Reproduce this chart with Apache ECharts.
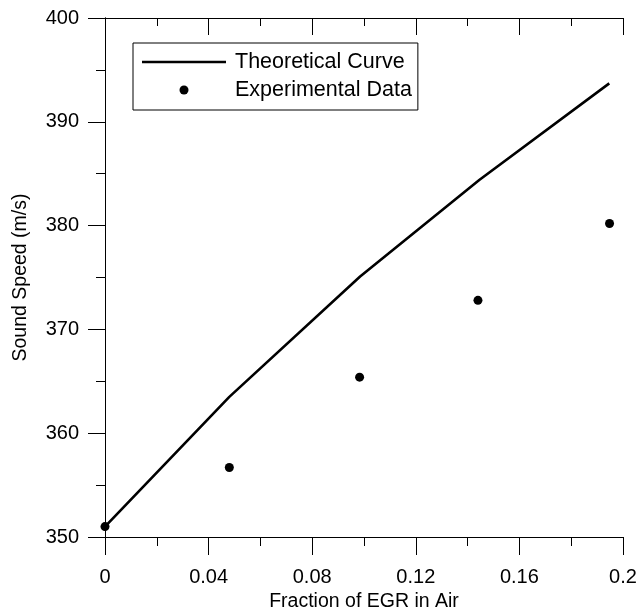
<!DOCTYPE html>
<html>
<head>
<meta charset="utf-8">
<script src="https://cdn.jsdelivr.net/npm/echarts@6/dist/echarts.min.js"></script>
<style>
  html, body { margin: 0; padding: 0; background: #fff; }
  #chart { width: 640px; height: 611px; }
</style>
</head>
<body>
<div id="chart"></div>
<script>
// EGR fraction vs. sound speed
const theoryX = [0, 0.048, 0.0985, 0.1445, 0.1947];
const theoryY = [351.0, 363.5, 375.1, 384.4, 393.7];
const expX = [0, 0.048, 0.0983, 0.144, 0.1948];
const expY = [351.0, 356.7, 365.4, 372.8, 380.2];

const FONT = '"Liberation Sans", Arial, sans-serif';
const chart = echarts.init(document.getElementById('chart'), null, { renderer: 'canvas' });

const pair = (xs, ys) => xs.map((x, i) => [x, ys[i]]);

const tickCommon = {
  axisLine: { show: true, lineStyle: { color: '#000', width: 1 } },
  splitLine: { show: false },
  minorSplitLine: { show: false }
};

chart.setOption({
  animation: false,
  backgroundColor: '#fff',
  textStyle: { fontFamily: FONT },
  grid: { left: 105, right: 17, top: 18, bottom: 74, containLabel: false, outerBoundsMode: 'none' },
  legend: {
    orient: 'vertical',
    left: 133,
    top: 43,
    padding: [8, 6, 9, 9],
    itemGap: 6,
    itemWidth: 84,
    itemHeight: 9,
    borderColor: '#000',
    borderWidth: 1,
    backgroundColor: '#fff',
    textStyle: { fontFamily: FONT, fontSize: 21.5, color: '#000', padding: [0, 0, 0, 4] },
    data: [
      { name: 'Theoretical Curve', icon: 'path://M0,0 L84,0 L84,2.4 L0,2.4 Z' },
      { name: 'Experimental Data', icon: 'circle' }
    ]
  },
  xAxis: [
    Object.assign({}, tickCommon, {
      type: 'value', position: 'bottom', min: 0, max: 0.2, interval: 0.04,
      axisTick: { show: true, inside: false, length: 18, lineStyle: { color: '#000' } },
      minorTick: { show: true, splitNumber: 2, length: 9, lineStyle: { color: '#000' } },
      axisLabel: { color: '#000', fontSize: 20, fontFamily: FONT, margin: 30 },
      name: 'Fraction of EGR in Air', nameLocation: 'middle', nameGap: 52,
      nameTextStyle: { color: '#000', fontSize: 19.5, fontFamily: FONT }
    }),
    Object.assign({}, tickCommon, {
      type: 'value', position: 'top', min: 0, max: 0.2, interval: 0.04,
      axisTick: { show: true, inside: true, length: 17, lineStyle: { color: '#000' } },
      minorTick: { show: true, splitNumber: 2, length: 8, lineStyle: { color: '#000' } },
      axisLabel: { show: false }
    })
  ],
  yAxis: [
    Object.assign({}, tickCommon, {
      type: 'value', position: 'left', min: 350, max: 400, interval: 10,
      axisTick: { show: true, inside: false, length: 17, lineStyle: { color: '#000' } },
      minorTick: { show: true, splitNumber: 2, length: 9, lineStyle: { color: '#000' } },
      axisLabel: { color: '#000', fontSize: 20, fontFamily: FONT, margin: 26 },
      name: 'Sound Speed (m/s)', nameLocation: 'middle', nameGap: 74,
      nameTextStyle: { color: '#000', fontSize: 19.5, fontFamily: FONT }
    }),
    Object.assign({}, tickCommon, {
      type: 'value', position: 'right', min: 350, max: 400, interval: 10,
      axisTick: { show: true, inside: true, length: 17, lineStyle: { color: '#000' } },
      minorTick: { show: true, splitNumber: 2, length: 8, lineStyle: { color: '#000' } },
      axisLabel: { show: false }
    })
  ],
  series: [
    {
      name: 'Theoretical Curve',
      type: 'line',
      xAxisIndex: 0, yAxisIndex: 0,
      data: pair(theoryX, theoryY),
      symbol: 'none',
      lineStyle: { color: '#000', width: 2.6 },
      itemStyle: { color: '#000' },
      z: 2
    },
    {
      name: 'Experimental Data',
      type: 'scatter',
      xAxisIndex: 0, yAxisIndex: 0,
      data: pair(expX, expY),
      symbol: 'circle',
      symbolSize: 9,
      itemStyle: { color: '#000', opacity: 1 },
      z: 3
    }
  ]
});
</script>
</body>
</html>
